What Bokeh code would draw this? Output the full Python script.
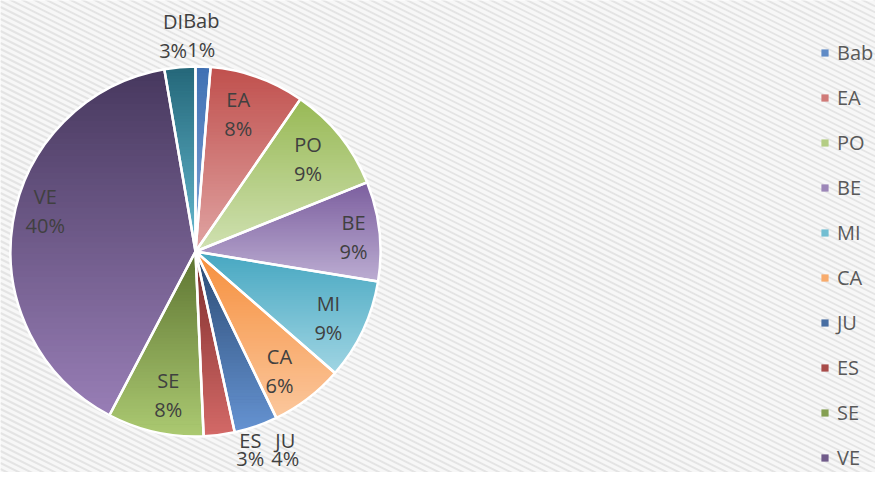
import math
from bokeh.plotting import figure
from bokeh.models import Range1d, Legend, LegendItem, ColumnDataSource
from bokeh.core.properties import value
from bokeh.embed import file_html
from bokeh.resources import INLINE

# ---- data ----
categories = ["Bab", "EA", "PO", "BE", "MI", "CA", "JU", "ES", "SE", "VE", "DI"]
shares = [1.3, 8.3, 9.3, 8.7, 8.8, 6.4, 3.8, 2.7, 8.4, 39.6, 2.7]
legend_categories = ["Bab", "EA", "PO", "BE", "MI", "CA", "JU", "ES", "SE", "VE"]

# ---- style ----
top_colors = ["#3f70b3", "#c0504d", "#98b955", "#7b5e9e", "#46a7c1", "#f68f3c",
              "#2b4a72", "#7c2c2a", "#5d7431", "#47385e", "#246779"]
bottom_colors = ["#82a6d8", "#e0a4a3", "#d0e1b2", "#bcadd2", "#a0d5e3", "#fbc79d",
                 "#6593d2", "#d46a68", "#acca72", "#987eb6", "#66bad1"]
# label nudges in screen px (dx, dy down) and half line gaps
nudge = {"Bab": (-3, 0), "DI": (-4, 0), "EA": (-7, 2), "PO": (-3, 0), "BE": (11, 2),
         "MI": (-1, 3), "CA": (-6, 2), "SE": (5, -1), "VE": (-4, -17),
         "ES": (27, -16.7), "JU": (19, -6.5)}
half_gap = {"ES": 9, "JU": 9}

W, H = 875, 472
CX, CY, R = 195, H - 251, 185
FONT = "Open Sans"


def hex2rgb(h):
    h = h.lstrip("#")
    return [int(h[i:i + 2], 16) for i in (0, 2, 4)]


def mix(c1, c2, t):
    a, b = hex2rgb(c1), hex2rgb(c2)
    return "#%02x%02x%02x" % tuple(int(round(a[i] + (b[i] - a[i]) * t)) for i in range(3))


def clip_edge(pts, keep, inter):
    out = []
    for i in range(len(pts)):
        cur, prev = pts[i], pts[i - 1]
        if keep(cur):
            if not keep(prev):
                out.append(inter(prev, cur))
            out.append(cur)
        elif keep(prev):
            out.append(inter(prev, cur))
    return out


def ix(p, q, y):
    t = (y - p[1]) / (q[1] - p[1])
    return (p[0] + t * (q[0] - p[0]), y)


def clip_band(poly, ylo, yhi):
    pts = clip_edge(poly, lambda p: p[1] >= ylo, lambda p, q: ix(p, q, ylo))
    if pts:
        pts = clip_edge(pts, lambda p: p[1] <= yhi, lambda p, q: ix(p, q, yhi))
    return pts


total = sum(shares)
cum = [0.0]
for s in shares:
    cum.append(cum[-1] + s / total)
start_angles = [math.pi / 2 - 2 * math.pi * c for c in cum[:-1]]
end_angles = [math.pi / 2 - 2 * math.pi * c for c in cum[1:]]
mid_colors = [mix(a, b, 0.5) for a, b in zip(top_colors, bottom_colors)]

p = figure(width=W, height=H, x_range=Range1d(0, W), y_range=Range1d(0, H),
           output_backend="svg", toolbar_location=None, min_border=0)
p.axis.visible = False
p.grid.visible = False
p.outline_line_color = None
p.background_fill_color = "#f7f7f7"
p.border_fill_color = "#f7f7f7"

# background texture: shallow diagonal stripes
sx0, sx1, sy0, sy1 = [], [], [], []
slope, period = 0.5, 6
c = -slope * W
while c < H + period:
    sx0.append(0); sy0.append(H - c)
    sx1.append(W); sy1.append(H - (c + slope * W))
    c += period
p.segment(x0=sx0, y0=sy0, x1=sx1, y1=sy1, line_color="#e4e4e4", line_width=2)

# base wedges (flat colour, used by the legend)
src = ColumnDataSource(dict(cat=categories, start=start_angles, end=end_angles, color=mid_colors))
base = p.wedge(x=CX, y=CY, radius=R, start_angle="start", end_angle="end",
               direction="clock", fill_color="color", line_color=None, source=src)

# vertical gradient per slice, as horizontal bands clipped to the slice shape
bx, by, bc = [], [], []
NB = 60
for i in range(len(categories)):
    a0, a1 = start_angles[i], end_angles[i]
    n = max(4, int(abs(a0 - a1) / (2 * math.pi) * 360))
    poly = [(CX, CY)] + [(CX + R * math.cos(a0 + (a1 - a0) * k / n),
                          CY + R * math.sin(a0 + (a1 - a0) * k / n)) for k in range(n + 1)]
    ymax = max(q[1] for q in poly)
    ymin = min(q[1] for q in poly)
    h = (ymax - ymin) / NB
    for k in range(NB):
        yhi = ymax - k * h
        ylo = yhi - h - 0.7
        pts = clip_band(poly, ylo, yhi)
        if len(pts) >= 3:
            bx.append([q[0] for q in pts])
            by.append([q[1] for q in pts])
            bc.append(mix(top_colors[i], bottom_colors[i], (k + 0.5) / NB))
p.patches(xs=bx, ys=by, fill_color=bc, line_color=None)

# white separators
p.wedge(x=CX, y=CY, radius=R, start_angle="start", end_angle="end", direction="clock",
        fill_color=None, line_color="white", line_width=2.5, source=src)

# data labels
nx, ny, px_, py_, nt, pt = [], [], [], [], [], []
for i, cat in enumerate(categories):
    frac = shares[i] / total
    phi = 2 * math.pi * (cum[i] + frac / 2)
    r = 0.8 * R if shares[i] >= 5 else 1.17 * R
    dx, dy = nudge.get(cat, (0, 0))
    g = half_gap.get(cat, 14.5)
    x = CX + r * math.sin(phi) + dx
    y = CY + r * math.cos(phi) - dy
    nx.append(x); ny.append(y + g); nt.append(cat)
    px_.append(x); py_.append(y - g); pt.append(f"{100 * frac:.0f}%")
p.text(x=nx, y=ny, text=nt, text_align="center", text_baseline="middle",
       text_font=value(FONT), text_font_size="20px", text_color="#404040")
p.text(x=px_, y=py_, text=pt, text_align="center", text_baseline="middle",
       text_font=value(FONT), text_font_size="20px", text_color="#404040")

# legend
items = [LegendItem(label=cat, renderers=[base], index=categories.index(cat))
         for cat in legend_categories]
legend = Legend(items=items, location=(820, 1), padding=0, margin=0,
                glyph_width=9, glyph_height=9, label_height=28, spacing=17,
                label_standoff=8, label_text_font=FONT, label_text_font_size="20px",
                label_text_color="#595959", background_fill_alpha=0,
                border_line_color=None)
p.add_layout(legend)

open("out.html", "w").write(file_html(p, INLINE))
